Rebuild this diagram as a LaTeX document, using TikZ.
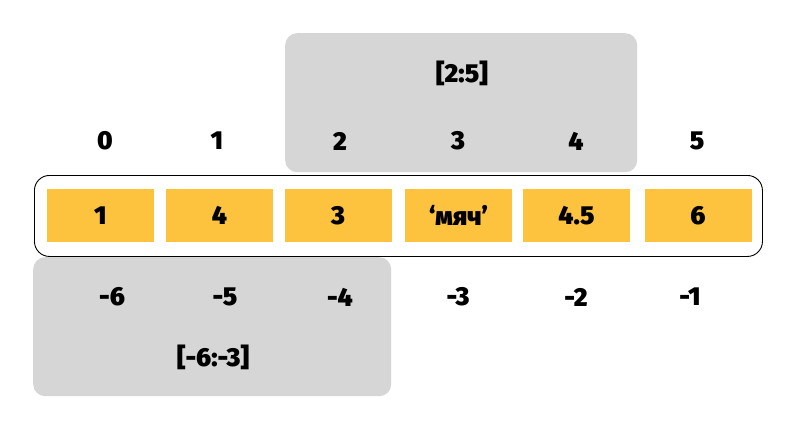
\documentclass[tikz,border=0pt]{standalone}
\usepackage{fontspec}
\setmainfont{Fira Sans}[BoldFont={Fira Sans Black}]
\definecolor{cellyellow}{HTML}{FDC33F}
\definecolor{slicegray}{HTML}{D6D6D6}
\begin{document}
\begin{tikzpicture}[x=1pt,y=-1pt,
  lbl/.style={font=\fontsize{26}{30}\selectfont\bfseries, text=black, inner sep=0pt},
  cell/.style={fill=cellyellow, draw=none, minimum width=107pt, minimum height=53pt, inner sep=0pt, font=\fontsize{26}{30}\selectfont\bfseries},
  slicebox/.style={fill=slicegray, draw=none, rounded corners=12pt},
  arraybox/.style={draw=black, line width=0.9pt, fill=white, rounded corners=15pt}]
\useasboundingbox (0,0) rectangle (791,428);
\fill[white] (0,0) rectangle (791,428);
% slice backgrounds
\node[slicebox, minimum width=352pt, minimum height=139pt, anchor=north west] (topslice) at (285,33) {};
\node[slicebox, minimum width=358pt, minimum height=139pt, anchor=north west] (botslice) at (33,257) {};
% array outline
\node[arraybox, minimum width=728pt, minimum height=81pt, anchor=north west] (arr) at (34,175) {};
% cells
\node[cell] (c0) at (100.5,215.5) {1};
\node[cell] (c1) at (219.5,215.5) {4};
\node[cell] (c2) at (338,215.5) {3};
\node[cell] (c3) at (458.5,215.5) {‘мяч’};
\node[cell] (c4) at (576.5,215.5) {4.5};
\node[cell] (c5) at (698,215.5) {6};
% positive indices
\node[lbl] (p0) at (105,141) {0};
\node[lbl] (p1) at (217,141) {1};
\node[lbl] (p2) at (340,141) {2};
\node[lbl] (p3) at (458,141) {3};
\node[lbl] (p4) at (576,141) {4};
\node[lbl] (p5) at (697,141) {5};
% negative indices
\node[lbl] (n6) at (112,297) {-6};
\node[lbl] (n5) at (225,297) {-5};
\node[lbl] (n4) at (340,297) {-4};
\node[lbl] (n3) at (458,297) {-3};
\node[lbl] (n2) at (576,297) {-2};
\node[lbl] (n1) at (690,297) {-1};
% slice labels
\node[lbl] (s1) at (462,73) {[2:5]};
\node[lbl] (s2) at (213,357) {[-6:-3]};
\end{tikzpicture}
\end{document}
